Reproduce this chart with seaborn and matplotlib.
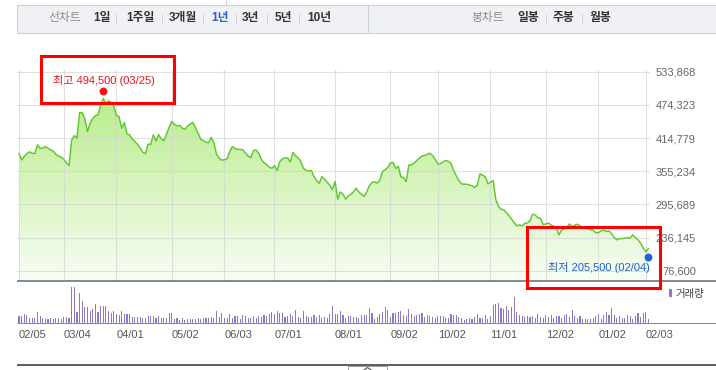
import numpy as np
import pandas as pd
import matplotlib
matplotlib.use("Agg")
import matplotlib.pyplot as plt
from matplotlib.patches import Rectangle, Polygon
from matplotlib.lines import Line2D
from matplotlib.colors import LinearSegmentedColormap
from matplotlib.transforms import ScaledTranslation
import seaborn as sns

# ---------------- data (1 year of daily closes, 2024-02-05 .. 2025-02-04) ----------------
price_k = [
    387.5, 375.5, 381.5, 387.0, 390.0, 387.5, 387.0, 402.5, 396.5, 396.5,
    399.5, 396.5, 393.5, 391.5, 385.5, 382.5, 380.5, 376.5, 370.0, 365.5,
    411.5, 419.0, 414.5, 460.5, 460.5, 449.0, 426.5, 441.5, 450.0, 454.5,
    457.0, 473.5, 485.5, 477.0, 481.5, 478.5, 472.0, 455.5, 453.0, 432.5,
    442.5, 422.0, 420.5, 413.0, 408.5, 403.5, 396.5, 389.5, 386.5, 404.0,
    403.5, 420.5, 409.5, 421.0, 413.0, 410.0, 422.0, 434.0, 444.5, 439.5,
    436.5, 437.5, 432.5, 430.5, 436.5, 440.0, 443.0, 433.5, 423.5, 412.5,
    410.0, 407.0, 406.5, 416.0, 406.5, 385.5, 378.5, 375.0, 376.0, 377.5,
    390.5, 399.5, 396.0, 394.5, 394.5, 393.5, 387.5, 382.5, 379.5, 392.0,
    393.5, 387.5, 376.5, 370.5, 367.5, 362.5, 360.5, 365.0, 356.5, 372.5,
    377.5, 379.0, 379.0, 372.0, 389.0, 383.0, 379.0, 372.5, 360.5, 356.5,
    356.0, 356.5, 345.5, 338.5, 333.5, 345.5, 341.0, 335.5, 330.0, 322.0,
    337.0, 305.0, 318.0, 314.0, 305.0, 311.0, 314.0, 318.0, 325.0, 318.0,
    314.0, 310.0, 318.0, 329.0, 335.0, 336.0, 334.0, 339.0, 355.0, 358.0,
    362.0, 370.0, 371.0, 360.0, 364.0, 345.0, 344.0, 336.5, 366.5, 366.5,
    369.5, 374.5, 378.5, 382.5, 383.5, 385.5, 387.5, 383.5, 376.5, 368.5,
    368.5, 372.0, 374.5, 373.0, 369.5, 356.5, 347.0, 338.5, 332.5, 332.0,
    332.0, 330.5, 329.0, 326.0, 330.5, 350.5, 348.0, 345.5, 332.5, 335.5,
    338.5, 305.0, 292.0, 287.0, 286.0, 281.0, 275.5, 269.5, 263.0, 257.0,
    259.0, 257.0, 261.5, 262.5, 266.0, 278.0, 276.5, 271.5, 271.0, 259.5,
    260.5, 262.0, 258.5, 256.5, 253.5, 241.0, 249.5, 252.0, 255.0, 260.5,
    256.0, 258.5, 260.0, 257.0, 253.0, 253.0, 252.0, 250.0, 249.0, 244.5,
    245.0, 248.0, 249.5, 247.0, 248.0, 243.0, 236.0, 232.0, 234.5, 234.0,
    235.0, 236.0, 235.0, 241.0, 236.0, 232.0, 226.0, 217.0, 210.5, 216.5,
]
volume_k = [
    20, 20, 26, 23, 13, 13, 15, 33, 20, 13,
    11, 11, 13, 11, 15, 13, 12, 18, 18, 15,
    108, 108, 33, 90, 66, 48, 48, 36, 40, 56,
    33, 50, 50, 50, 36, 28, 36, 25, 23, 35,
    26, 26, 26, 18, 18, 18, 18, 15, 15, 20,
    20, 20, 15, 20, 15, 15, 15, 30, 30, 11,
    13, 8, 15, 8, 11, 11, 11, 11, 13, 11,
    15, 13, 15, 18, 13, 35, 18, 30, 15, 15,
    26, 15, 20, 20, 11, 23, 20, 15, 15, 20,
    15, 20, 18, 23, 20, 26, 33, 26, 36, 30,
    30, 18, 20, 26, 20, 38, 18, 13, 36, 21,
    18, 18, 23, 18, 23, 13, 18, 13, 26, 50,
    26, 26, 35, 23, 13, 20, 20, 18, 18, 13,
    23, 23, 23, 43, 28, 10, 18, 25, 33, 46,
    38, 18, 28, 28, 33, 34, 22, 19, 42, 26,
    19, 24, 26, 29, 16, 22, 19, 16, 14, 19,
    19, 19, 14, 14, 26, 24, 24, 16, 14, 9,
    11, 14, 12, 16, 26, 14, 14, 22, 12, 21,
    54, 56, 59, 44, 42, 49, 39, 48, 77, 32,
    22, 19, 16, 20, 16, 19, 14, 26, 16, 14,
    24, 16, 24, 14, 19, 21, 14, 22, 27, 16,
    37, 21, 14, 19, 12, 12, 10, 12, 14, 19,
    26, 12, 24, 32, 24, 44, 24, 14, 19, 14,
    14, 24, 21, 12, 21, 28, 16, 28, 32, 10,
]
month_ticks = [0, 17, 37, 58, 78, 97, 120, 141, 159, 179, 200, 220, 238]
month_labels = ["02/05", "03/04", "04/01", "05/02", "06/03", "07/01", "08/01",
                "09/02", "10/02", "11/01", "12/02", "01/02", "02/03"]
y_ticks = [533868, 474323, 414779, 355234, 295689, 236145, 176600]
y_labels = ["533,868", "474,323", "414,779", "355,234", "295,689", "236,145", "76,600"]
high_idx, high_val, high_text = 32, 494500, "최고 494,500 (03/25)"
low_idx, low_val, low_text = 239, 205500, "최저 205,500 (02/04)"
period_items = ["1일", "1주일", "3개월", "1년", "3년", "5년", "10년"]
candle_items = ["일봉", "주봉", "월봉"]

price = [p * 1000 for p in price_k]
idx = list(range(len(price)))
df = pd.DataFrame({"idx": idx, "price": price, "volume": volume_k})

# ---------------- style ----------------
sns.set_style("white")
plt.rcParams["font.family"] = ["Liberation Sans", "Noto Sans CJK KR", "DejaVu Sans"]

W, H = 716, 370
fig = plt.figure(figsize=(W / 100, H / 100), dpi=100)
fig.patch.set_facecolor("white")


def fx(x):
    return x / W


def fy(y):
    return 1 - y / H


GREEN = "#5fc82c"
PURPLE = "#9076c9"
X0, X1 = 17, 650
PX_PER_IDX = 2.634
XLIM = (-(19 - X0) / PX_PER_IDX, (X1 - 19) / PX_PER_IDX)
VAL_PER_PX = 59545 / 33.17
TOP_PX, BOT_PX, GRID_TOP_PX = 69.7, 280.7, 71.7
ytop = 533868 + (GRID_TOP_PX - TOP_PX) * VAL_PER_PX
ybot = 533868 - (BOT_PX - GRID_TOP_PX) * VAL_PER_PX

# ---------------- price panel ----------------
ax = fig.add_axes([fx(X0), fy(BOT_PX), (X1 - X0) / W, (BOT_PX - TOP_PX) / H])
ax.set_xlim(*XLIM)
ax.set_ylim(ybot, ytop)

cmap = LinearSegmentedColormap.from_list("g", ["#f8fdf5", "#b0ea7c"])
grad = np.linspace(0, 1, 256).reshape(-1, 1)
im = ax.imshow(grad, extent=[XLIM[0], XLIM[1], ybot, ytop], origin="lower",
               aspect="auto", cmap=cmap, zorder=0.5, interpolation="bilinear")
verts = list(zip(idx, price)) + [(idx[-1], ybot), (idx[0], ybot)]
im.set_clip_path(Polygon(verts, closed=True, transform=ax.transData))

sns.lineplot(data=df, x="idx", y="price", ax=ax, color=GREEN, linewidth=1.05,
             errorbar=None, zorder=4)

ax.yaxis.tick_right()
ax.set_xticks(month_ticks)
ax.set_yticks(y_ticks, labels=y_labels, ha="right", fontsize=8, color="#666666")
ax.tick_params(axis="x", length=0, labelbottom=False)
ax.tick_params(axis="y", length=0, pad=33.1)
ax.grid(True, color="#d4d4d4", linewidth=0.75, alpha=0.7)
ax.set_axisbelow(False)
for s in ax.spines.values():
    s.set_visible(False)
ax.set_xlabel("")
ax.set_ylabel("")
ax.set_facecolor("none")

# high / low markers
sns.scatterplot(x=[high_idx], y=[high_val], ax=ax, color="#ff1010", s=32,
                linewidth=0, zorder=6)
sc_hi = ax.collections[-1]
sc_hi.set_offset_transform(ax.transData + ScaledTranslation(0, 3 / 100, fig.dpi_scale_trans))
sc_hi.set_clip_on(False)
sns.scatterplot(x=[low_idx], y=[low_val], ax=ax, color="#1a63d8", s=32,
                linewidth=0, zorder=6)
sc_lo = ax.collections[-1]
sc_lo.set_offset_transform(ax.transData + ScaledTranslation(-1 / 100, -2.5 / 100, fig.dpi_scale_trans))
sc_lo.set_clip_on(False)
ax.set_xlim(*XLIM)
ax.set_ylim(ybot, ytop)

# ---------------- volume panel ----------------
VT, VB = 281.5, 322.7
axv = fig.add_axes([fx(X0), fy(VB), (X1 - X0) / W, (VB - VT) / H])
sns.barplot(data=df, x="idx", y="volume", native_scale=True, width=0.42,
            color=PURPLE, saturation=1, errorbar=None, linewidth=0, ax=axv)
for p in axv.patches:
    p.set_antialiased(False)
axv.set_xlim(*XLIM)
axv.set_ylim(0, (VB - VT) * 3)
axv.set_xticks(month_ticks, labels=month_labels, ha="left", fontsize=8, color="#555555")
axv.set_yticks([])
axv.tick_params(axis="x", length=3.6, width=0.72, color="#9a9a9a", pad=1.6, direction="out")
for s in axv.spines.values():
    s.set_visible(False)
axv.set_xlabel("")
axv.set_ylabel("")
axv.set_facecolor("none")

# ---------------- frame lines ----------------
def hline(y, x0, x1, color, lw, z=5):
    fig.add_artist(Line2D([fx(x0), fx(x1)], [fy(y), fy(y)], color=color, lw=lw,
                          transform=fig.transFigure, zorder=z, solid_capstyle="butt"))


def vline(x, y0, y1, color, lw, z=5):
    fig.add_artist(Line2D([fx(x), fx(x)], [fy(y0), fy(y1)], color=color, lw=lw,
                          transform=fig.transFigure, zorder=z, solid_capstyle="butt"))


hline(280.7, 17, 716, "#70757f", 1.2)
hline(322.9, 17, 716, "#8c8c8c", 0.75)
hline(365.2, 17, 716, "#4f4f4f", 1.3)
fig.add_artist(Rectangle((fx(348), fy(371)), 39 / W, 5.5 / H, transform=fig.transFigure,
                         facecolor="white", edgecolor="#9a9a9a", lw=0.7, zorder=6))
fig.add_artist(Line2D([fx(364), fx(367.5), fx(371)], [fy(370), fy(367.5), fy(370)],
                      color="#555555", lw=0.8, transform=fig.transFigure, zorder=7))
vline(226, 0, 4.5, "#c8c8c8", 0.75)

# volume legend
fig.add_artist(Rectangle((fx(669), fy(297)), 3 / W, 8 / H, transform=fig.transFigure,
                         facecolor=PURPLE, edgecolor="none", zorder=6))
fig.text(fx(675), fy(293.5), "거래량", ha="left", va="center", fontsize=7.5,
         color="#444444", family=["Noto Sans CJK KR", "DejaVu Sans"])

# ---------------- header bar ----------------
fig.add_artist(Rectangle((fx(17), fy(33)), (716 - 17 + 5) / W, (33 - 5) / H,
                         transform=fig.transFigure, facecolor="#eff1f5",
                         edgecolor="#cdd1d9", lw=0.8, zorder=1))
vline(368, 5, 33, "#cdd1d9", 0.8, z=2)

HY = 18.5
hfont = ["Liberation Sans", "Noto Sans CJK KR"]
fig.text(fx(64.5), fy(HY), "선차트", ha="center", va="center", fontsize=8.5,
         color="#8c8c8c", family=hfont, zorder=3)
period_x = [102, 140, 182.5, 219.5, 250.5, 283.5, 319]
for name, x in zip(period_items, period_x):
    col = "#2f5fc4" if name == "1년" else "#333333"
    fig.text(fx(x), fy(HY), name, ha="center", va="center", fontsize=8.5,
             fontweight="bold", color=col, family=hfont, zorder=3)
for x in [116, 162, 203, 236, 267, 299]:
    vline(x, 13.5, 23.5, "#d2d2d2", 0.7, z=3)
fig.text(fx(487.5), fy(HY), "봉차트", ha="center", va="center", fontsize=8.5,
         color="#8c8c8c", family=hfont, zorder=3)
for name, x in zip(candle_items, [528, 563.5, 600.5]):
    fig.text(fx(x), fy(HY), name, ha="center", va="center", fontsize=8.5,
             fontweight="bold", color="#333333", family=hfont, zorder=3)
for x in [546, 582]:
    vline(x, 13.5, 23.5, "#d2d2d2", 0.7, z=3)

# ---------------- high / low annotation boxes ----------------
fig.add_artist(Rectangle((fx(41), fy(102.7)), (173.5 - 41) / W, (102.7 - 55.8) / H,
                         transform=fig.transFigure, fill=False, edgecolor="#ff0000",
                         lw=2.2, zorder=10))
fig.text(fx(104), fy(80), high_text, ha="center", va="center", fontsize=8,
         color="#e8131c", family=hfont, zorder=11)
fig.add_artist(Rectangle((fx(527), fy(288)), (659.5 - 527) / W, (288 - 227) / H,
                         transform=fig.transFigure, fill=False, edgecolor="#ff0000",
                         lw=2.2, zorder=10))
fig.text(fx(599), fy(267.3), low_text, ha="center", va="center", fontsize=8,
         color="#1d5fd0", family=hfont, zorder=11)

fig.savefig("out.png", dpi=100, facecolor="white")
